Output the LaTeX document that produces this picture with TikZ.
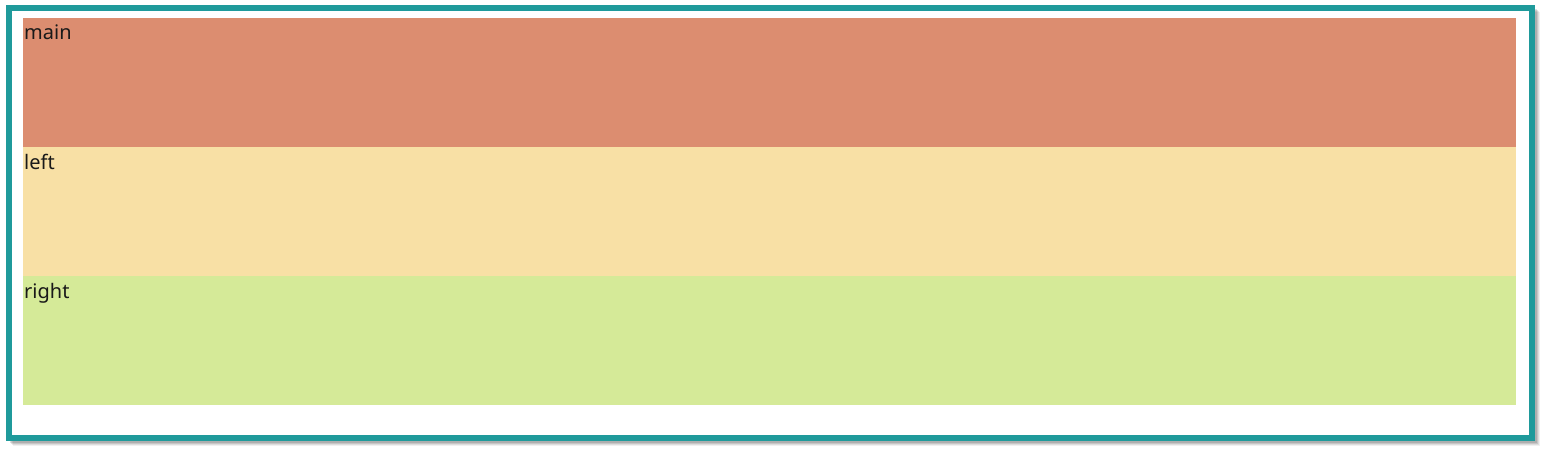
\documentclass[tikz,border=0pt]{standalone}
\usepackage{fontspec}
\setmainfont{Noto Sans}
\definecolor{frameteal}{HTML}{1F9A9B}
\definecolor{mainc}{HTML}{DC8D70}
\definecolor{leftc}{HTML}{F8E0A5}
\definecolor{rightc}{HTML}{D5EA98}
\begin{document}
\begin{tikzpicture}[x=1pt,y=-1pt,
  band/.style={draw=none,inner sep=0pt,minimum width=1493pt,minimum height=129pt,anchor=north west},
  lbl/.style={anchor=north west,inner sep=0pt,font=\fontsize{20pt}{24pt}\selectfont,text=black!90,yshift=-7pt,xshift=1pt}]
\useasboundingbox (0,0) rectangle (1544,450);
% shadow
\foreach \o/\a in {7/0.06,6/0.08,5/0.10,4/0.12}{
  \fill[black,opacity=\a] (6+\o,5+\o) rectangle (1535+\o-2,441+\o-2);
}
% frame
\draw[frameteal,line width=6pt,fill=white] (9,8) rectangle (1532,438);
% bands
\node[band,fill=mainc] (main) at (23,18) {};
\node[band,fill=leftc] (left) at (23,147) {};
\node[band,fill=rightc] (right) at (23,276) {};
\node[lbl] (mainl) at (main.north west) {main};
\node[lbl] (leftl) at (left.north west) {left};
\node[lbl] (rightl) at (right.north west) {right};
\end{tikzpicture}
\end{document}
